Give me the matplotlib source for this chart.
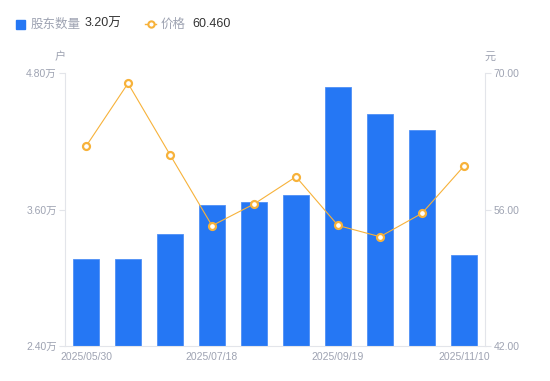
import matplotlib.pyplot as plt
import numpy as np
from matplotlib.lines import Line2D
from matplotlib.patches import Rectangle

plt.rcParams['font.family'] = ['Noto Sans CJK SC', 'DejaVu Sans']

dates = ['2025/05/30', '2025/06/13', '2025/06/30', '2025/07/18', '2025/07/31',
         '2025/08/29', '2025/09/19', '2025/09/30', '2025/10/31', '2025/11/10']
holders = [3.165, 3.163, 3.385, 3.642, 3.666, 3.727, 4.68, 4.44, 4.30, 3.20]  # 万户
price = [62.48, 68.94, 61.62, 54.34, 56.56, 59.36, 54.36, 53.21, 55.61, 60.46]

BLUE = '#2577F4'
ORANGE = '#F7B23A'
GRAY = '#9EA3B2'
AXIS = '#E3E5EA'
NUMFONT = ['Liberation Sans', 'Noto Sans CJK SC']


def main():
    fig = plt.figure(figsize=(5.5, 3.81), dpi=100)
    ax = fig.add_axes([65 / 550, 35 / 381, 420 / 550, 273 / 381])
    ax2 = ax.twinx()

    x = np.arange(len(dates))
    ax.bar(x, holders, width=0.6, color=BLUE, edgecolor='#4F90F6', linewidth=0.6, zorder=2)
    ax.set_xlim(-0.5, len(dates) - 0.5)
    ax.set_ylim(2.4, 4.8)
    ax.set_yticks([2.4, 3.6, 4.8])
    ax.set_yticklabels([f'{v:.2f}万' for v in [2.4, 3.6, 4.8]], family=NUMFONT)
    ax.set_xticks(x[::3])
    ax.set_xticklabels(dates[::3], family=NUMFONT)

    ax2.plot(x, price, color=ORANGE, linewidth=0.8, marker='o', markersize=5,
             markerfacecolor='white', markeredgecolor=ORANGE, markeredgewidth=1.6, zorder=3)
    ax2.set_ylim(42, 70)
    ax2.set_yticks([42, 56, 70])
    ax2.set_yticklabels([f'{v:.2f}' for v in [42, 56, 70]], family=NUMFONT)

    for a in (ax, ax2):
        for s in a.spines.values():
            s.set_visible(False)
        a.tick_params(colors=GRAY, labelsize=7.5, length=4, width=0.8, color=AXIS, pad=2)
    ax.spines['left'].set_visible(True)
    ax.spines['left'].set_color(AXIS)
    ax.spines['bottom'].set_visible(True)
    ax.spines['bottom'].set_color(AXIS)
    ax2.spines['right'].set_visible(True)
    ax2.spines['right'].set_color(AXIS)
    ax.tick_params(axis='x', length=0, pad=4)
    ax2.set_zorder(ax.get_zorder() + 1)
    ax2.patch.set_visible(False)

    # unit labels
    fig.text(60 / 550, 1 - 57 / 381, '户', color=GRAY, fontsize=8, ha='center', va='center')
    fig.text(490 / 550, 1 - 57 / 381, '元', color=GRAY, fontsize=8, ha='center', va='center')

    # legend
    fig.add_artist(Rectangle((16 / 550, 1 - 29 / 381), 9 / 550, 9 / 381,
                             transform=fig.transFigure, color=BLUE))
    fig.text(31 / 550, 1 - 24 / 381, '股东数量', color=GRAY, fontsize=9, va='center')
    fig.text(85 / 550, 1 - 24 / 381, f'{holders[-1]:.2f}万', color='#333333', fontsize=9,
             va='center', family=NUMFONT)
    fig.add_artist(Line2D([145 / 550, 156 / 550], [1 - 24 / 381] * 2, transform=fig.transFigure,
                          color=ORANGE, linewidth=1))
    fig.add_artist(Line2D([150.5 / 550], [1 - 24 / 381], transform=fig.transFigure, marker='o',
                          markersize=4.5, markerfacecolor='white', markeredgecolor=ORANGE,
                          markeredgewidth=1.5))
    fig.text(161 / 550, 1 - 24 / 381, '价格', color=GRAY, fontsize=9, va='center')
    fig.text(192 / 550, 1 - 24 / 381, f'{price[-1]:.3f}', color='#333333', fontsize=9,
             va='center', family=NUMFONT)

    fig.savefig('out.png', dpi=100)
    plt.close(fig)


main()
